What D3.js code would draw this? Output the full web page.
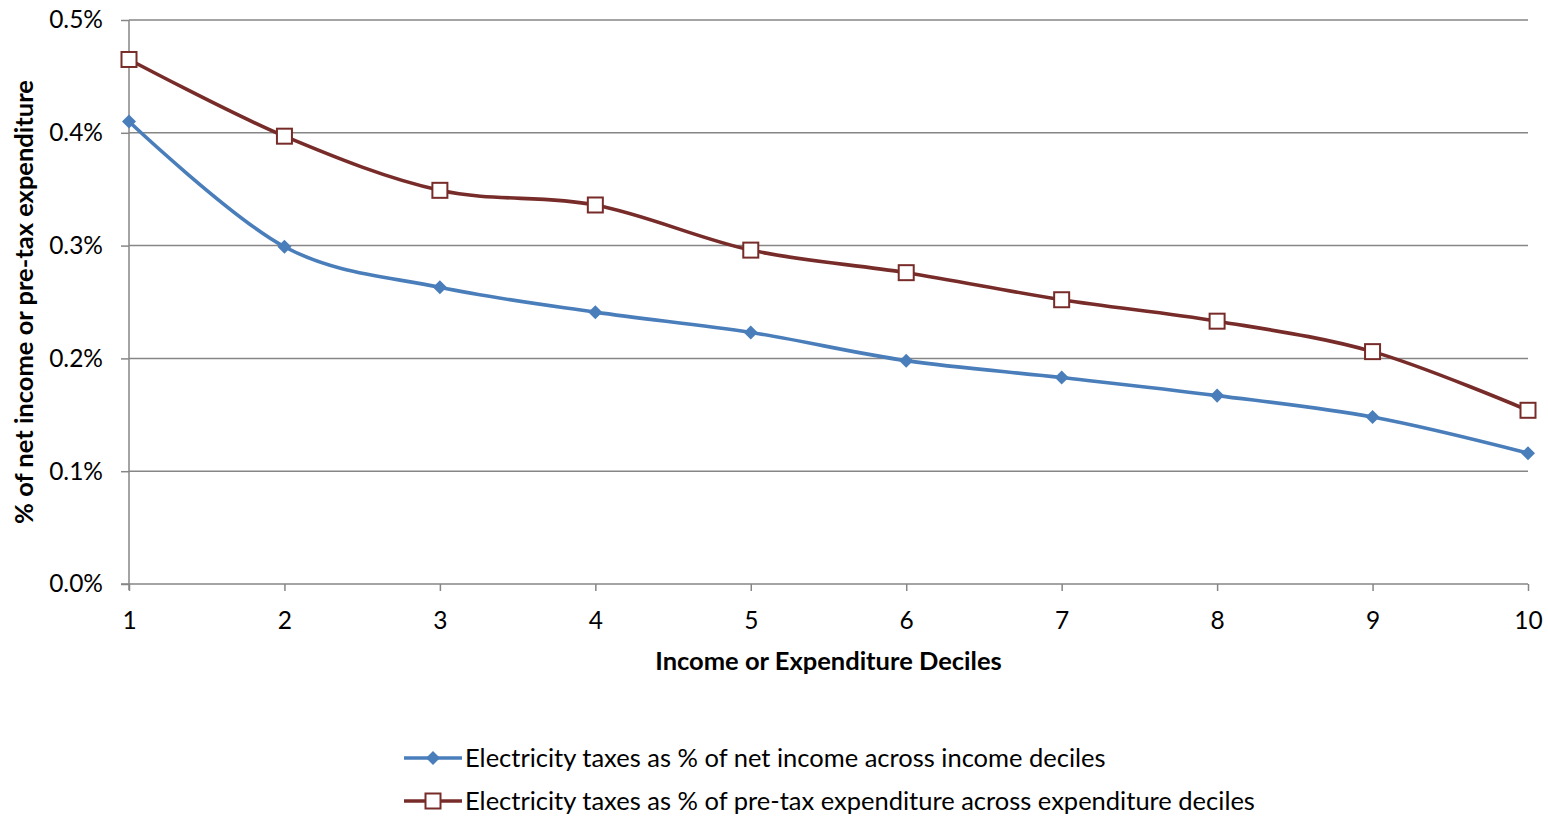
<!DOCTYPE html>
<html>
<head>
<meta charset="utf-8">
<script src="https://cdn.jsdelivr.net/npm/d3@7"></script>
<style>
  html, body { margin: 0; padding: 0; background: #fff; }
  svg { display: block; }
  text { font-family: Lato, "Open Sans", sans-serif; fill: #000; }
</style>
</head>
<body>
<svg id="chart" width="1548" height="816"></svg>
<script>
// Deciles (x axis) and the two series, in percent
const deciles = [1, 2, 3, 4, 5, 6, 7, 8, 9, 10];
const incomeShare = [0.410, 0.299, 0.263, 0.241, 0.223, 0.198, 0.183, 0.167, 0.148, 0.116];
const expenditureShare = [0.465, 0.397, 0.349, 0.336, 0.296, 0.276, 0.252, 0.233, 0.206, 0.154];
const yTicks = [0.0, 0.1, 0.2, 0.3, 0.4, 0.5];
const seriesNames = [
  "Electricity taxes as % of net income across income deciles",
  "Electricity taxes as % of pre-tax expenditure across expenditure deciles"
];

const svg = d3.select("#chart");
const plotLeft = 129, plotRight = 1528, plotTop = 20, plotBottom = 584;
const fontFamily = "Lato, 'Open Sans', sans-serif";

const x = d3.scaleLinear().domain([1, 10]).range([plotLeft, plotRight]);
const y = d3.scaleLinear().domain([0, 0.5]).range([plotBottom, plotTop]);

const gridColor = "#868686";

// horizontal gridlines
svg.append("g")
  .selectAll("line")
  .data(yTicks.filter(d => d > 0))
  .join("line")
  .attr("x1", plotLeft).attr("x2", plotRight)
  .attr("y1", d => y(d)).attr("y2", d => y(d))
  .attr("stroke", gridColor).attr("stroke-width", 1.5);

// y axis
const yAxis = svg.append("g")
  .attr("transform", `translate(${plotLeft},0)`)
  .call(d3.axisLeft(y).tickValues(yTicks).tickSize(8).tickPadding(18)
    .tickFormat(d => d.toFixed(1) + "%"));
yAxis.attr("font-family", null).attr("font-size", null);
yAxis.select(".domain").attr("stroke", gridColor).attr("stroke-width", 1.5)
  .attr("d", `M0,${plotTop}V${plotBottom + 6}`);
yAxis.selectAll(".tick line").attr("stroke", gridColor).attr("stroke-width", 1.5);
yAxis.selectAll(".tick text").style("font-size", "24.5px").attr("fill", "#000")
  .style("font-family", fontFamily);

// x axis
const xAxis = svg.append("g")
  .attr("transform", `translate(0,${plotBottom})`)
  .call(d3.axisBottom(x).tickValues(deciles).tickSize(7).tickPadding(21)
    .tickFormat(d3.format("d")));
xAxis.attr("font-family", null).attr("font-size", null);
xAxis.select(".domain").attr("stroke", gridColor).attr("stroke-width", 1.5)
  .attr("d", `M${plotLeft - 8},0H${plotRight}`);
xAxis.selectAll(".tick line").attr("stroke", gridColor).attr("stroke-width", 1.5);
xAxis.selectAll(".tick text").style("font-size", "24.5px").attr("fill", "#000")
  .style("font-family", fontFamily);

// axis titles
svg.append("text")
  .attr("x", (plotLeft + plotRight) / 2).attr("y", 670)
  .attr("text-anchor", "middle")
  .style("font-size", "25.5px").style("font-weight", "bold")
  .text("Income or Expenditure Deciles");

svg.append("text")
  .attr("transform", `translate(33,${(plotTop + plotBottom) / 2}) rotate(-90)`)
  .attr("text-anchor", "middle")
  .style("font-size", "25.5px").style("font-weight", "bold")
  .text("% of net income or pre-tax expenditure");

// series lines
const blue = "#4A7EBB", red = "#772C2A";
const line = d3.line()
  .x((d, i) => x(deciles[i]))
  .y(d => y(d))
  .curve(d3.curveCatmullRom.alpha(0));

svg.append("path").datum(expenditureShare)
  .attr("d", line).attr("fill", "none")
  .attr("stroke", red).attr("stroke-width", 3.6);
svg.append("path").datum(incomeShare)
  .attr("d", line).attr("fill", "none")
  .attr("stroke", blue).attr("stroke-width", 3.6);

const diamond = d3.symbol().type(d3.symbolDiamond2).size(125);
const sq = 15;

svg.append("g").selectAll("path")
  .data(incomeShare)
  .join("path")
  .attr("transform", (d, i) => `translate(${x(deciles[i])},${y(d)})`)
  .attr("d", diamond).attr("fill", blue);

svg.append("g").selectAll("rect")
  .data(expenditureShare)
  .join("rect")
  .attr("x", (d, i) => x(deciles[i]) - sq / 2)
  .attr("y", d => y(d) - sq / 2)
  .attr("width", sq).attr("height", sq)
  .attr("fill", "#fff").attr("stroke", red).attr("stroke-width", 2);

// legend
const legend = svg.append("g");
const legendRows = [
  { name: seriesNames[0], color: blue, marker: "diamond", y: 758 },
  { name: seriesNames[1], color: red, marker: "square", y: 801 }
];
legendRows.forEach(r => {
  legend.append("line")
    .attr("x1", 404).attr("x2", 462).attr("y1", r.y).attr("y2", r.y)
    .attr("stroke", r.color).attr("stroke-width", 3.6);
  if (r.marker === "diamond") {
    legend.append("path")
      .attr("transform", `translate(433,${r.y})`)
      .attr("d", diamond).attr("fill", r.color);
  } else {
    legend.append("rect")
      .attr("x", 433 - sq / 2).attr("y", r.y - sq / 2).attr("width", sq).attr("height", sq)
      .attr("fill", "#fff").attr("stroke", r.color).attr("stroke-width", 2);
  }
  legend.append("text")
    .attr("x", 465).attr("y", r.y).attr("dy", "0.35em")
    .style("font-size", "25.5px")
    .text(r.name);
});
</script>
</body>
</html>
